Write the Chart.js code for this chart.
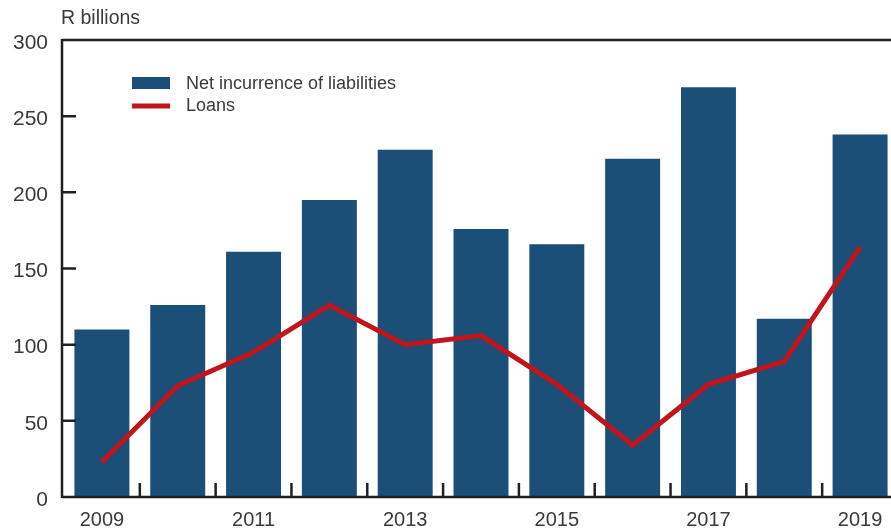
<!DOCTYPE html>
<html>
<head>
<meta charset="utf-8">
<script src="https://cdn.jsdelivr.net/npm/chart.js@4"></script>
<style>
  html, body { margin: 0; padding: 0; background: #fff; overflow: hidden; }
  #wrap { position: relative; width: 900px; height: 529px; }
</style>
</head>
<body>
<div id="wrap"><canvas id="chart"></canvas></div>
<script>
// Net incurrence of liabilities vs loans, R billions
const years = ['2009', '2010', '2011', '2012', '2013', '2014', '2015', '2016', '2017', '2018', '2019'];
const netLiabilities = [110, 126, 161, 195, 228, 176, 166, 222, 269, 117, 238];
const loans = [23, 73, 95, 126, 100, 106, 74, 34, 74, 89, 164];
const yTicks = [0, 50, 100, 150, 200, 250, 300];

const BLUE = '#1b4f78';
const RED = '#c1141c';
const AXIS = '#231f20';
const TEXT = '#3a3a3a';
const FONT = '"Liberation Sans", Arial, sans-serif';

// axis lines, inner ticks, unit label and legend
const decor = {
  id: 'decor',
  afterDraw(chart) {
    const { ctx, chartArea: a, scales: { x, y } } = chart;
    const ax = a.left - 2;
    ctx.save();
    ctx.strokeStyle = AXIS;
    ctx.lineWidth = 2.5;
    ctx.beginPath();
    ctx.moveTo(ax, a.top);
    ctx.lineTo(a.right, a.top);
    ctx.moveTo(ax, a.top - 1);
    ctx.lineTo(ax, a.bottom + 1);
    ctx.moveTo(ax, a.bottom);
    ctx.lineTo(a.right, a.bottom);
    // y ticks pointing inward
    yTicks.slice(1, -1).forEach(v => {
      const py = y.getPixelForValue(v);
      ctx.moveTo(ax, py);
      ctx.lineTo(ax + 14, py);
    });
    // x ticks at category boundaries, pointing up
    for (let i = 1; i < years.length; i++) {
      const px = (x.getPixelForValue(i - 1) + x.getPixelForValue(i)) / 2;
      ctx.moveTo(px, a.bottom);
      ctx.lineTo(px, a.bottom - 14);
    }
    ctx.stroke();

    ctx.fillStyle = TEXT;
    ctx.font = '19.5px ' + FONT;
    ctx.textBaseline = 'middle';
    ctx.textAlign = 'left';
    ctx.fillText('R billions', 61, 19);

    // legend
    ctx.font = '18px ' + FONT;
    ctx.fillStyle = BLUE;
    ctx.fillRect(132, 77, 38, 12);
    ctx.strokeStyle = RED;
    ctx.lineWidth = 5;
    ctx.beginPath();
    ctx.moveTo(132, 106);
    ctx.lineTo(170, 106);
    ctx.stroke();
    ctx.fillStyle = TEXT;
    ctx.fillText('Net incurrence of liabilities', 186, 84);
    ctx.fillText('Loans', 186, 106);
    ctx.restore();
  }
};

new Chart(document.getElementById('chart'), {
  data: {
    labels: years,
    datasets: [
      {
        type: 'line',
        label: 'Loans',
        data: loans,
        borderColor: RED,
        borderWidth: 5,
        pointRadius: 0,
        tension: 0,
        order: 0
      },
      {
        type: 'bar',
        label: 'Net incurrence of liabilities',
        data: netLiabilities,
        backgroundColor: BLUE,
        categoryPercentage: 1,
        barPercentage: 0.725,
        order: 1
      }
    ]
  },
  options: {
    responsive: true,
    maintainAspectRatio: false,
    animation: false,
    layout: { padding: { top: 40, right: 2, left: 0, bottom: 0 } },
    plugins: { legend: { display: false }, tooltip: { enabled: false } },
    scales: {
      x: {
        offset: true,
        grid: { display: false, drawTicks: false },
        border: { display: false },
        ticks: {
          autoSkip: false,
          maxRotation: 0,
          padding: 11,
          color: TEXT,
          font: { family: FONT, size: 20 },
          callback: (v, i) => (i % 2 === 0 ? years[i] : '')
        },
        afterFit: s => { s.height = 32; }
      },
      y: {
        min: 0,
        max: 300,
        grid: { display: false, drawTicks: false },
        border: { display: false },
        ticks: {
          stepSize: 50,
          padding: 16,
          labelOffset: 3,
          color: TEXT,
          font: { family: FONT, size: 21 }
        },
        afterFit: s => { s.width = 64; }
      }
    }
  },
  plugins: [decor]
});
</script>
</body>
</html>
